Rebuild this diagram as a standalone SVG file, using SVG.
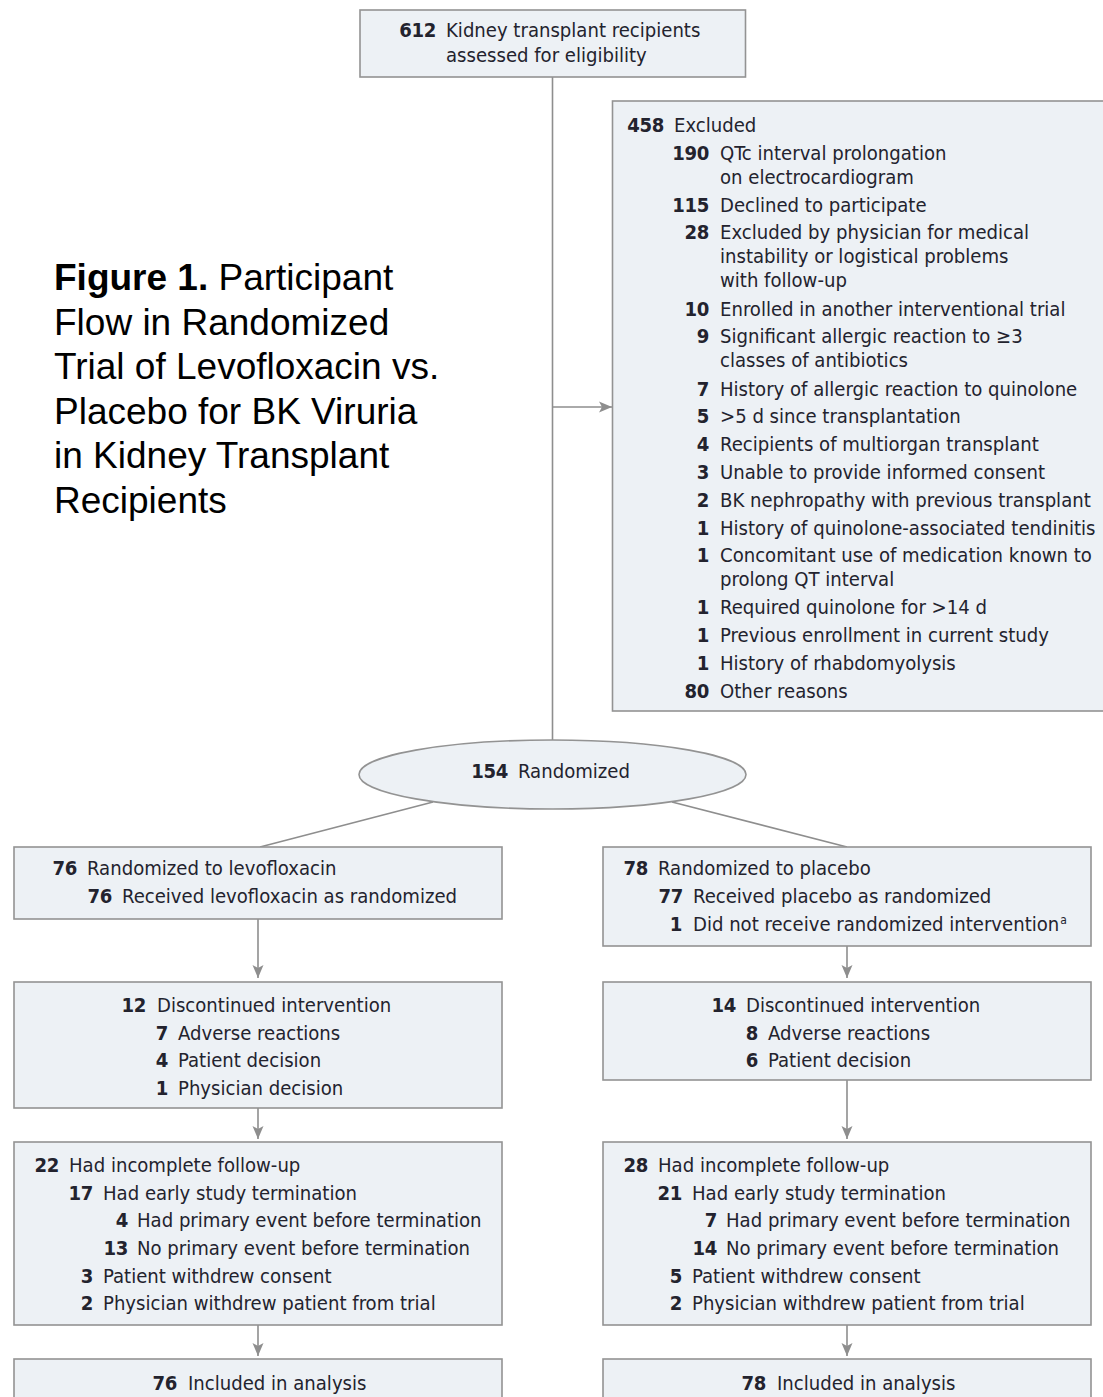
<svg xmlns="http://www.w3.org/2000/svg" width="1103" height="1397" viewBox="0 0 1103 1397">
<style>
.box{fill:#edf1f5;stroke:#939393;stroke-width:1.6}
.ln{fill:none;stroke:#8e8e8e;stroke-width:1.6}
text{font-family:"DejaVu Sans Condensed","DejaVu Sans",sans-serif;font-stretch:condensed;font-size:20.1px;fill:#23232e}
.n{font-weight:bold;text-anchor:end;letter-spacing:-0.3px}
.t{font-family:"Liberation Sans",Arial,sans-serif;font-stretch:normal;font-size:37px;fill:#000}
.tb{font-weight:bold}
.sup{font-size:12px}
</style>
<defs>
<marker id="ah" markerUnits="userSpaceOnUse" markerWidth="14" markerHeight="12" refX="13" refY="6" orient="auto">
<path d="M0,0.5 L13,6 L0,11.5 L3,6 Z" fill="#8e8e8e"/>
</marker>
</defs>
<rect width="1103" height="1397" fill="#ffffff"/>

<g id="title">
<text class="t" x="54" y="290"><tspan class="tb">Figure 1.</tspan> Participant</text>
<text class="t" x="54" y="334.5">Flow in Randomized</text>
<text class="t" x="54" y="379">Trial of Levofloxacin vs.</text>
<text class="t" x="54" y="423.5">Placebo for BK Viruria</text>
<text class="t" x="54" y="468">in Kidney Transplant</text>
<text class="t" x="54" y="512.5">Recipients</text>
</g>

<g id="connectors">
<line class="ln" x1="552.5" y1="77" x2="552.5" y2="740"/>
<line class="ln" x1="552.5" y1="407" x2="612" y2="407" marker-end="url(#ah)"/>
<line class="ln" x1="433" y1="802" x2="260" y2="847"/>
<line class="ln" x1="672" y1="802" x2="847" y2="847"/>
<line class="ln" x1="258" y1="919" x2="258" y2="978" marker-end="url(#ah)"/>
<line class="ln" x1="258" y1="1108" x2="258" y2="1139" marker-end="url(#ah)"/>
<line class="ln" x1="258" y1="1325" x2="258" y2="1356" marker-end="url(#ah)"/>
<line class="ln" x1="847" y1="946" x2="847" y2="978" marker-end="url(#ah)"/>
<line class="ln" x1="847" y1="1080" x2="847" y2="1139" marker-end="url(#ah)"/>
<line class="ln" x1="847" y1="1325" x2="847" y2="1356" marker-end="url(#ah)"/>
</g>

<g id="assessed">
<rect class="box" x="360" y="10" width="385.5" height="67"/>
<text class="n" x="436" y="37">612</text>
<text x="446" y="37">Kidney transplant recipients</text>
<text x="446" y="62">assessed for eligibility</text>
</g>

<g id="excluded">
<rect class="box" x="612.5" y="101" width="500" height="610"/>
<text class="n" x="664" y="131.5">458</text><text x="674" y="131.5">Excluded</text>
<text class="n" x="709" y="159.5">190</text><text x="720" y="159.5">QTc interval prolongation</text>
<text x="720" y="183.5">on electrocardiogram</text>
<text class="n" x="709" y="211.5">115</text><text x="720" y="211.5">Declined to participate</text>
<text class="n" x="709" y="239">28</text><text x="720" y="239">Excluded by physician for medical</text>
<text x="720" y="263">instability or logistical problems</text>
<text x="720" y="287">with follow-up</text>
<text class="n" x="709" y="315.5">10</text><text x="720" y="315.5">Enrolled in another interventional trial</text>
<text class="n" x="709" y="343">9</text><text x="720" y="343">Significant allergic reaction to ≥3</text>
<text x="720" y="367">classes of antibiotics</text>
<text class="n" x="709" y="395.5">7</text><text x="720" y="395.5">History of allergic reaction to quinolone</text>
<text class="n" x="709" y="423">5</text><text x="720" y="423">&gt;5 d since transplantation</text>
<text class="n" x="709" y="451">4</text><text x="720" y="451">Recipients of multiorgan transplant</text>
<text class="n" x="709" y="479">3</text><text x="720" y="479">Unable to provide informed consent</text>
<text class="n" x="709" y="507">2</text><text x="720" y="507">BK nephropathy with previous transplant</text>
<text class="n" x="709" y="534.5">1</text><text x="720" y="534.5">History of quinolone-associated tendinitis</text>
<text class="n" x="709" y="562">1</text><text x="720" y="562">Concomitant use of medication known to</text>
<text x="720" y="586">prolong QT interval</text>
<text class="n" x="709" y="614">1</text><text x="720" y="614">Required quinolone for &gt;14 d</text>
<text class="n" x="709" y="642">1</text><text x="720" y="642">Previous enrollment in current study</text>
<text class="n" x="709" y="670">1</text><text x="720" y="670">History of rhabdomyolysis</text>
<text class="n" x="709" y="698">80</text><text x="720" y="698">Other reasons</text>
</g>

<g id="randomized">
<ellipse class="box" cx="552.5" cy="774.5" rx="193.5" ry="34.5"/>
<text class="n" x="508" y="778">154</text>
<text x="518" y="778">Randomized</text>
</g>

<g id="levo">
<rect class="box" x="14" y="847" width="488" height="72"/>
<text class="n" x="77" y="875">76</text><text x="87" y="875">Randomized to levofloxacin</text>
<text class="n" x="112" y="903">76</text><text x="122" y="903">Received levofloxacin as randomized</text>
</g>

<g id="placebo">
<rect class="box" x="603" y="847" width="488" height="99"/>
<text class="n" x="648" y="875">78</text><text x="658" y="875">Randomized to placebo</text>
<text class="n" x="683" y="903">77</text><text x="693" y="903">Received placebo as randomized</text>
<text class="n" x="682" y="931">1</text><text x="693" y="931">Did not receive randomized intervention<tspan class="sup" dx="1" dy="-7">a</tspan></text>
</g>

<g id="levo-disc">
<rect class="box" x="14" y="982" width="488" height="126"/>
<text class="n" x="146" y="1012">12</text><text x="157" y="1012">Discontinued intervention</text>
<text class="n" x="168" y="1040">7</text><text x="178" y="1040">Adverse reactions</text>
<text class="n" x="168" y="1067">4</text><text x="178" y="1067">Patient decision</text>
<text class="n" x="168" y="1095">1</text><text x="178" y="1095">Physician decision</text>
</g>

<g id="placebo-disc">
<rect class="box" x="603" y="982" width="488" height="98"/>
<text class="n" x="736" y="1012">14</text><text x="746" y="1012">Discontinued intervention</text>
<text class="n" x="758" y="1040">8</text><text x="768" y="1040">Adverse reactions</text>
<text class="n" x="758" y="1067">6</text><text x="768" y="1067">Patient decision</text>
</g>

<g id="levo-fu">
<rect class="box" x="14" y="1142" width="488" height="183"/>
<text class="n" x="59" y="1172">22</text><text x="69" y="1172">Had incomplete follow-up</text>
<text class="n" x="93" y="1200">17</text><text x="103" y="1200">Had early study termination</text>
<text class="n" x="128" y="1227">4</text><text x="137" y="1227">Had primary event before termination</text>
<text class="n" x="128" y="1255">13</text><text x="137" y="1255">No primary event before termination</text>
<text class="n" x="93" y="1283">3</text><text x="103" y="1283">Patient withdrew consent</text>
<text class="n" x="93" y="1310">2</text><text x="103" y="1310">Physician withdrew patient from trial</text>
</g>

<g id="placebo-fu">
<rect class="box" x="603" y="1142" width="488" height="183"/>
<text class="n" x="648" y="1172">28</text><text x="658" y="1172">Had incomplete follow-up</text>
<text class="n" x="682" y="1200">21</text><text x="692" y="1200">Had early study termination</text>
<text class="n" x="717" y="1227">7</text><text x="726" y="1227">Had primary event before termination</text>
<text class="n" x="717" y="1255">14</text><text x="726" y="1255">No primary event before termination</text>
<text class="n" x="682" y="1283">5</text><text x="692" y="1283">Patient withdrew consent</text>
<text class="n" x="682" y="1310">2</text><text x="692" y="1310">Physician withdrew patient from trial</text>
</g>

<g id="levo-analysis">
<rect class="box" x="14" y="1359" width="488" height="60"/>
<text class="n" x="177" y="1390">76</text><text x="188" y="1390">Included in analysis</text>
</g>

<g id="placebo-analysis">
<rect class="box" x="603" y="1359" width="488" height="60"/>
<text class="n" x="766" y="1390">78</text><text x="777" y="1390">Included in analysis</text>
</g>
</svg>
